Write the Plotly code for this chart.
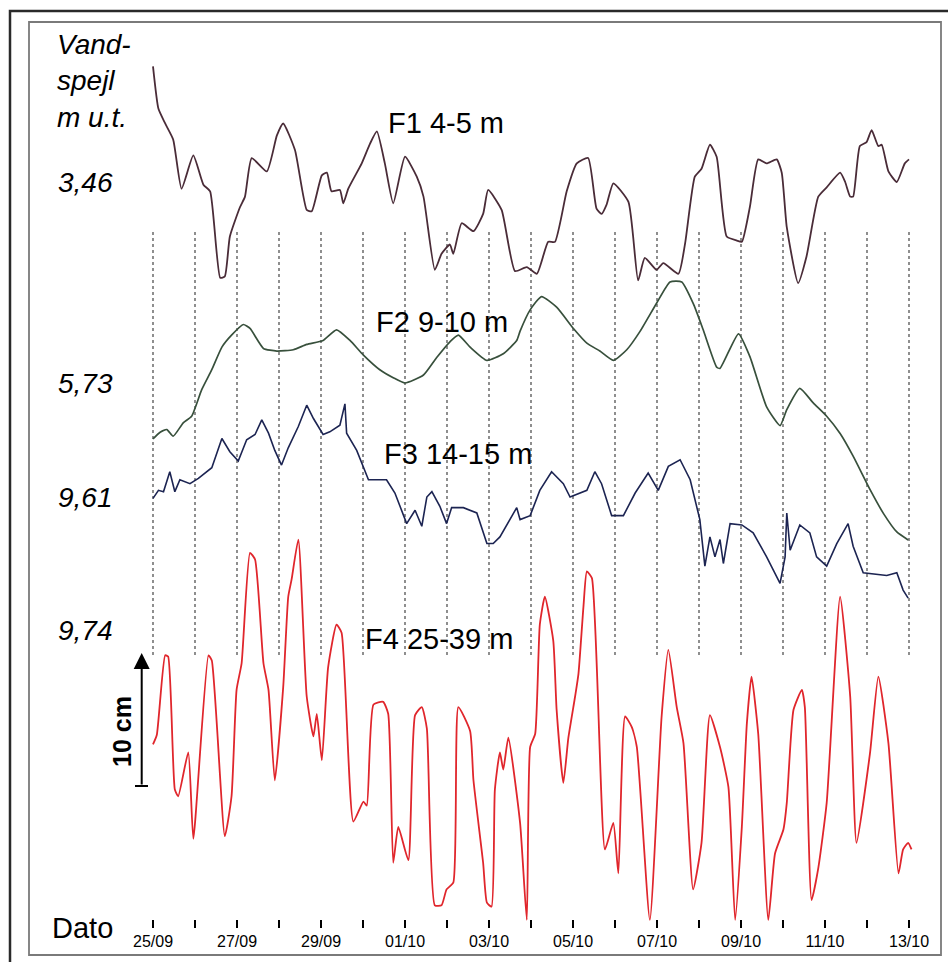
import plotly.graph_objects as go

# ---------------- data ----------------
# time in days after 25/09 00:00, level in cm below the reference level printed on the left
DAY_LABELS = ["25/09", "26/09", "27/09", "28/09", "29/09", "30/09", "01/10", "02/10", "03/10",
              "04/10", "05/10", "06/10", "07/10", "08/10", "09/10", "10/10", "11/10", "12/10", "13/10"]

SERIES_NAMES = ["F1 4-5 m", "F2 9-10 m", "F3 14-15 m", "F4 25-39 m"]
REF_LEVELS = [3.46, 5.73, 9.61, 9.74]   # "Vandspejl m u.t." reference levels

F1_DAYS = [0.00, 0.13, 0.29, 0.48, 0.68, 0.96, 1.20, 1.36, 1.60, 1.71,
           1.83, 2.07, 2.19, 2.35, 2.71, 2.95, 3.10, 3.38, 3.66, 3.78,
           4.02, 4.14, 4.25, 4.45, 4.53, 4.65, 4.97, 5.17, 5.33, 5.52,
           5.72, 6.00, 6.28, 6.44, 6.71, 6.87, 7.07, 7.15, 7.35, 7.63,
           7.86, 7.98, 8.30, 8.62, 8.90, 9.14, 9.41, 9.57, 9.85, 10.09,
           10.36, 10.56, 10.68, 10.80, 10.96, 11.32, 11.55, 11.71, 11.99, 12.15,
           12.51, 12.67, 12.90, 13.06, 13.26, 13.42, 13.66, 13.90, 14.02, 14.21,
           14.41, 14.61, 14.85, 14.97, 15.09, 15.36, 15.56, 15.84, 16.04, 16.36,
           16.48, 16.60, 16.67, 16.83, 16.99, 17.11, 17.27, 17.35, 17.51, 17.71,
           17.90, 18.00]
F1_CM = [-8.7, -5.5, -4.4, -3.2, 0.5, -2.0, 0.2, 0.7, 7.2, 7.1,
         4.1, 1.9, 1.1, -1.8, -0.8, -3.5, -4.4, -2.4, 2.1, 2.2,
         -0.5, -0.7, 0.7, 0.6, 1.6, 0.5, -1.4, -2.9, -3.8, -1.4,
         1.6, -1.9, -0.4, 1.1, 6.6, 5.4, 4.7, 5.4, 3.1, 3.7,
         2.4, 0.6, 2.1, 6.7, 6.4, 6.9, 4.5, 4.5, 0.7, -1.4,
         -1.8, 2.0, 2.4, 1.7, 0.1, 1.5, 7.4, 5.7, 6.6, 6.1,
         6.9, 4.6, -0.4, -1.0, -2.8, -1.9, 4.1, 4.4, 4.5, 1.9,
         -1.7, -1.4, -1.7, -0.7, 3.4, 7.6, 5.6, 1.1, 0.4, -0.7,
         0.0, 1.1, 1.1, -2.7, -3.0, -3.9, -2.7, -2.8, -0.8, 0.0,
         -1.4, -1.7]

F2_DAYS = [0.00, 0.17, 0.33, 0.48, 0.72, 0.92, 1.16, 1.40, 1.64, 1.87,
           2.15, 2.31, 2.63, 2.95, 3.34, 3.66, 4.05, 4.37, 4.69, 5.01,
           5.40, 5.72, 6.00, 6.44, 6.75, 7.07, 7.27, 7.55, 7.95, 8.34,
           8.66, 8.74, 8.98, 9.25, 9.61, 10.01, 10.33, 10.64, 10.96, 11.28,
           11.60, 11.99, 12.31, 12.59, 12.86, 13.10, 13.42, 13.50, 13.94, 14.21,
           14.61, 14.93, 15.09, 15.40, 15.72, 16.04, 16.36, 16.67, 17.07, 17.39,
           17.71, 17.98]
F2_CM = [4.2, 3.7, 3.5, 4.0, 3.0, 2.5, 0.5, -1.0, -2.7, -3.6,
         -4.4, -4.1, -2.6, -2.4, -2.5, -2.9, -3.2, -4.0, -3.2, -2.1,
         -1.0, -0.4, 0.0, -0.6, -1.9, -3.1, -3.6, -2.7, -1.7, -2.2,
         -3.2, -3.9, -5.5, -6.5, -5.7, -4.1, -3.0, -2.4, -1.7, -2.5,
         -3.9, -6.0, -7.6, -7.6, -6.0, -4.0, -1.2, -1.1, -3.7, -2.0,
         1.8, 3.2, 2.0, 0.4, 1.5, 2.5, 3.8, 5.5, 8.0, 9.8,
         11.2, 11.8]

F3_DAYS = [0.00, 0.13, 0.25, 0.40, 0.52, 0.64, 0.88, 1.08, 1.40, 1.64,
           1.83, 2.03, 2.23, 2.43, 2.59, 2.75, 2.90, 3.06, 3.22, 3.46,
           3.66, 3.82, 4.05, 4.21, 4.45, 4.57, 4.61, 4.85, 5.13, 5.56,
           5.76, 6.04, 6.24, 6.40, 6.52, 6.64, 6.83, 6.99, 7.11, 7.39,
           7.71, 7.95, 8.10, 8.26, 8.66, 8.74, 8.98, 9.21, 9.49, 9.77,
           9.93, 10.33, 10.52, 10.68, 10.92, 11.20, 11.48, 11.79, 12.03, 12.27,
           12.55, 12.79, 13.02, 13.14, 13.26, 13.38, 13.50, 13.58, 13.74, 14.02,
           14.29, 14.61, 14.93, 15.05, 15.09, 15.17, 15.40, 15.64, 15.80, 16.04,
           16.28, 16.55, 16.67, 16.91, 17.47, 17.71, 17.86, 17.98]
F3_CM = [0.1, -0.5, -0.4, -1.9, -0.4, -1.3, -1.0, -1.4, -2.2, -4.4,
         -3.4, -2.7, -4.3, -4.7, -5.8, -4.8, -3.5, -2.4, -3.7, -5.3,
         -6.9, -5.9, -4.7, -4.9, -5.4, -7.0, -4.8, -3.5, -1.3, -1.3,
         -0.3, 2.0, 1.0, 2.2, 0.0, -0.4, 0.7, 2.0, 0.8, 0.8,
         1.2, 3.5, 3.5, 3.0, 0.8, 1.7, 1.4, -0.5, -1.9, -1.0,
         0.0, -0.5, -1.9, -1.0, 1.4, 1.4, -0.3, -1.8, -0.5, -2.3,
         -2.8, -1.3, 1.7, 5.2, 3.0, 4.5, 3.2, 5.0, 2.0, 2.1,
         2.7, 4.5, 6.5, 4.5, 1.2, 4.0, 2.1, 2.7, 4.5, 5.2,
         3.5, 2.0, 3.7, 5.7, 5.9, 5.7, 7.0, 7.6]

F4_DAYS = [0.00, 0.09, 0.29, 0.36, 0.52, 0.60, 0.84, 0.96, 1.32, 1.40,
           1.71, 1.87, 1.99, 2.11, 2.31, 2.43, 2.63, 2.75, 2.90, 3.10,
           3.22, 3.30, 3.46, 3.66, 3.82, 3.90, 4.02, 4.17, 4.37, 4.49,
           4.77, 5.01, 5.09, 5.25, 5.48, 5.60, 5.72, 5.84, 6.08, 6.24,
           6.40, 6.52, 6.71, 6.87, 6.99, 7.15, 7.27, 7.55, 7.63, 7.86,
           7.95, 8.06, 8.14, 8.26, 8.34, 8.46, 8.74, 8.90, 8.98, 9.10,
           9.21, 9.33, 9.53, 9.61, 9.77, 9.89, 10.05, 10.13, 10.25, 10.33,
           10.45, 10.76, 10.96, 11.08, 11.24, 11.40, 11.52, 11.83, 12.11, 12.27,
           12.47, 12.63, 12.86, 13.06, 13.26, 13.50, 13.70, 13.86, 14.02, 14.14,
           14.25, 14.41, 14.65, 14.81, 15.01, 15.09, 15.25, 15.45, 15.52, 15.68,
           15.84, 16.04, 16.36, 16.60, 16.75, 17.07, 17.27, 17.51, 17.75, 17.86,
           17.98, 18.06]
F4_CM = [8.6, 7.9, 1.9, 2.0, 12.0, 12.5, 9.2, 15.7, 1.9, 2.3,
         15.5, 12.5, 4.5, 2.5, -5.8, -5.3, 2.5, 4.5, 11.3, 4.3,
         -2.5, -3.8, -6.8, 5.0, 8.0, 6.3, 9.8, 2.8, -0.4, 0.2,
         14.4, 12.9, 13.2, 5.6, 5.4, 6.3, 17.5, 14.8, 17.3, 6.4,
         5.8, 7.4, 20.7, 20.7, 19.5, 19.0, 5.8, 7.6, 11.3, 17.5,
         20.5, 20.8, 12.0, 9.2, 10.5, 8.1, 14.5, 21.8, 8.8, 7.8,
         -0.4, -2.5, 0.8, 6.0, 11.5, 8.1, 5.0, 3.3, -1.8, -4.4,
         -3.9, 16.5, 14.5, 18.3, 6.5, 7.3, 8.8, 21.8, 6.5, 1.5,
         5.8, 8.5, 19.5, 16.0, 6.4, 8.8, 11.8, 21.8, 14.8, 7.0,
         3.5, 7.8, 21.8, 16.8, 15.0, 13.0, 6.0, 4.5, 5.8, 20.3,
         17.9, 13.0, -2.5, 5.0, 16.0, 9.3, 3.5, 8.5, 18.3, 16.5,
         16.0, 16.5]

SCALE_BAR_CM = 10

# ---------------- layout constants ----------------
W, H = 948, 962
PX_PER_DAY = 42.0
PX_PER_CM = 13.3
DAY0_PX = 153.0                      # pixel x of 25/09
REF_PX = [182, 383, 497, 630]        # pixel y where each reference level sits
COLORS = ["#4a2c38", "#38503c", "#1c2452", "#e0262c"]
WIDTHS = [1.8, 1.7, 1.6, 1.8]
SHAPES = ["spline", "spline", "linear", "spline"]
FONT = "Liberation Sans, Arial, sans-serif"


def px(x):
    return x / W


def py(y):
    return 1 - y / H


x_range = [-DAY0_PX / PX_PER_DAY, (W - DAY0_PX) / PX_PER_DAY]

all_days = [F1_DAYS, F2_DAYS, F3_DAYS, F4_DAYS]
all_cm = [F1_CM, F2_CM, F3_CM, F4_CM]
for d, c in zip(all_days, all_cm):
    assert len(d) == len(c), (len(d), len(c))

fig = go.Figure()
axis_ids = ["y", "y2", "y3", "y4"]
for i in range(4):
    depth = [REF_LEVELS[i] + c / 100.0 for c in all_cm[i]]
    fig.add_trace(go.Scatter(
        x=all_days[i], y=depth, mode="lines", name=SERIES_NAMES[i],
        yaxis=axis_ids[i],
        line=dict(color=COLORS[i], width=WIDTHS[i], shape=SHAPES[i], smoothing=0.5),
        hoverinfo="skip", showlegend=False))

layout_axes = {}
for i in range(4):
    m_per_px = 1.0 / (PX_PER_CM * 100.0)
    top = REF_LEVELS[i] - REF_PX[i] * m_per_px
    bottom = REF_LEVELS[i] + (H - REF_PX[i]) * m_per_px
    ax = dict(range=[bottom, top], visible=False, showgrid=False, zeroline=False,
              domain=[0, 1], fixedrange=True)
    key = "yaxis" if i == 0 else "yaxis%d" % (i + 1)
    if i > 0:
        ax["overlaying"] = "y"
    layout_axes[key] = ax

tickvals = list(range(len(DAY_LABELS)))
ticktext = [lab if k % 2 == 0 else "" for k, lab in enumerate(DAY_LABELS)]

fig.update_layout(
    width=W, height=H, autosize=False,
    margin=dict(l=0, r=0, t=0, b=0, pad=0),
    paper_bgcolor="white", plot_bgcolor="white",
    font=dict(family=FONT, color="black"),
    xaxis=dict(range=x_range, domain=[0, 1], anchor="free", position=py(919),
               tickmode="array", tickvals=tickvals, ticktext=ticktext,
               ticks="outside", ticklen=8, tickwidth=1.8, tickcolor="black",
               tickfont=dict(size=16, family=FONT, color="black"),
               showline=False, showgrid=False, zeroline=False, fixedrange=True),
    **layout_axes,
)

shapes = []
# dotted day lines
for k in tickvals:
    shapes.append(dict(type="line", xref="x", yref="paper", x0=k, x1=k,
                       y0=py(655), y1=py(230),
                       line=dict(color="#606060", width=1.4, dash="dot"), layer="below"))
# frames
shapes.append(dict(type="rect", xref="paper", yref="paper", x0=px(10), x1=1.05,
                   y0=-0.05, y1=py(11), line=dict(color="#2a2a2a", width=2.5)))
shapes.append(dict(type="rect", xref="paper", yref="paper", x0=px(29), x1=px(941),
                   y0=py(955), y1=py(22), line=dict(color="#7a7a7a", width=1.8)))
# scale bar foot
bar_bottom = REF_LEVELS[3] + 0.1173
bar_x = (141.7 - DAY0_PX) / PX_PER_DAY
shapes.append(dict(type="line", xref="x", yref="y4",
                   x0=(135 - DAY0_PX) / PX_PER_DAY, x1=(148 - DAY0_PX) / PX_PER_DAY,
                   y0=bar_bottom, y1=bar_bottom, line=dict(color="black", width=2)))

annotations = []
annotations.append(dict(xref="x", yref="y4", x=bar_x, y=bar_bottom - SCALE_BAR_CM / 100.0,
                        axref="x", ayref="y4", ax=bar_x, ay=bar_bottom,
                        showarrow=True, arrowhead=2, arrowsize=1.6, arrowwidth=2,
                        arrowcolor="black", text=""))
annotations.append(dict(xref="paper", yref="paper", x=px(122), y=py(732),
                        xanchor="center", yanchor="middle",
                        text="<b>%d cm</b>" % SCALE_BAR_CM, textangle=-90, showarrow=False,
                        font=dict(size=25, family=FONT, color="black")))
# left title
annotations.append(dict(xref="paper", yref="paper", x=px(55), y=py(27), xanchor="left",
                        yanchor="top", align="left", showarrow=False,
                        text="<i>Vand-</i><br><i>spejl</i><br><i>m u.t.</i>",
                        font=dict(size=28, family=FONT, color="black")))
# reference level labels
for i in range(4):
    lab = ("%.2f" % REF_LEVELS[i]).replace(".", ",")
    annotations.append(dict(xref="paper", yref=axis_ids[i], x=px(56), y=REF_LEVELS[i],
                            xanchor="left", yanchor="middle", showarrow=False,
                            text="<i>%s</i>" % lab,
                            font=dict(size=28, family=FONT, color="black")))
# series labels
label_pos = [(446, 123), (442, 322), (458, 454), (439, 639)]
for name, (lx, ly) in zip(SERIES_NAMES, label_pos):
    annotations.append(dict(xref="paper", yref="paper", x=px(lx), y=py(ly),
                            xanchor="center", yanchor="middle", showarrow=False,
                            text=name, font=dict(size=29, family=FONT, color="black")))
annotations.append(dict(xref="paper", yref="paper", x=px(82), y=py(928),
                        xanchor="center", yanchor="middle", showarrow=False,
                        text="Dato", font=dict(size=29, family=FONT, color="black")))

fig.update_layout(shapes=shapes, annotations=annotations)

fig.write_html("out.html", config={"displayModeBar": False, "staticPlot": True})
